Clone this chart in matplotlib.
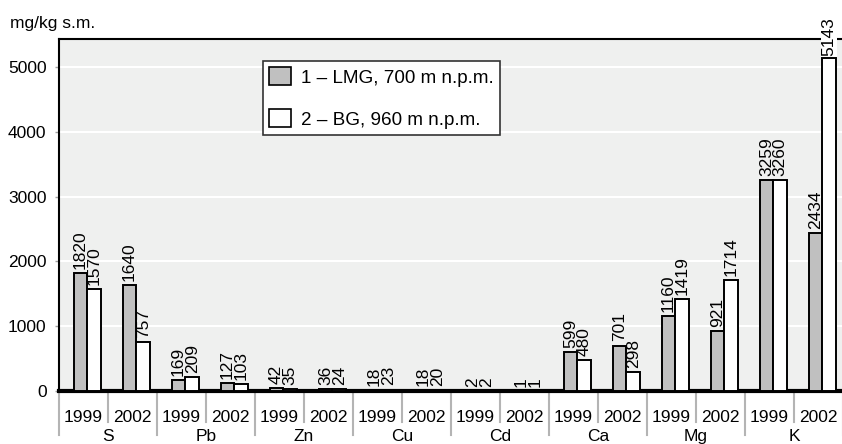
import matplotlib
matplotlib.use("Agg")
import matplotlib.pyplot as plt
from matplotlib.patches import Patch
import matplotlib.transforms as mtransforms

elements = ['S', 'Pb', 'Zn', 'Cu', 'Cd', 'Ca', 'Mg', 'K']
years = ['1999', '2002']
lmg = [1820, 1640, 169, 127, 42, 36, 18, 18, 2, 1, 599, 701, 1160, 921, 3259, 2434]
bg = [1570, 757, 209, 103, 35, 24, 23, 20, 2, 1, 480, 298, 1419, 1714, 3260, 5143]
series_labels = ['1 – LMG, 700 m n.p.m.', '2 – BG, 960 m n.p.m.']
yticks = [0, 1000, 2000, 3000, 4000, 5000]

FONT = ['Liberation Sans Narrow', 'Liberation Sans', 'DejaVu Sans']
plt.rcParams['font.family'] = FONT
FS = 12.5
FS_LEG = 13.6

W, H = 842, 444
fig = plt.figure(figsize=(W / 100, H / 100), dpi=100)
ax_l, ax_r, ax_t, ax_b = 59, 843, 39, 391
ax = fig.add_axes([ax_l / W, 1 - ax_b / H, (ax_r - ax_l) / W, (ax_b - ax_t) / H])
ax.set_facecolor('#eff0ef')

n = len(lmg)
ax.set_xlim(0, n)
ax.set_ylim(0, 5432)

bw = 0.28
x_g = [i + 0.44 for i in range(n)]
x_w = [i + 0.72 for i in range(n)]
ax.bar(x_g, lmg, width=bw, color='#c0c0c0', edgecolor='black', linewidth=1.4, zorder=3)
ax.bar(x_w, bg, width=bw, color='white', edgecolor='black', linewidth=1.4, zorder=3)

for xs, vals in ((x_g, lmg), (x_w, bg)):
    for x, v in zip(xs, vals):
        kw = {}
        if v > 5000:
            kw['bbox'] = dict(facecolor='white', edgecolor='none', pad=0.5)
            off = 1
        else:
            off = 3
        ax.annotate(str(v), (x, v), xytext=(0, off), textcoords='offset points',
                    rotation=90, ha='center', va='bottom', fontsize=FS,
                    zorder=2.8, annotation_clip=False, **kw)

ax.set_yticks(yticks)
ax.set_yticklabels([str(t) for t in yticks], fontsize=FS)
ax.yaxis.grid(True, color='white', linewidth=1.5)
ax.set_axisbelow(True)
ax.tick_params(axis='y', length=3, width=1, color='#a0a0a0', pad=6)
ax.set_xticks([])

ax.spines['right'].set_visible(False)
ax.spines['left'].set_linewidth(1.5)
ax.spines['top'].set_linewidth(1.5)
ax.spines['bottom'].set_linewidth(3)
ax.spines['top'].set_zorder(2.5)

trans = mtransforms.blended_transform_factory(ax.transData, ax.transAxes)
h_ax = ax_b - ax_t
for i in range(n + 1):
    ylow = (ax_b - 435) / h_ax if i % 2 == 0 else (ax_b - 422) / h_ax
    ax.plot([i, i], [-(2.5 / h_ax), ylow], transform=trans, color='#b4b4b4',
            linewidth=1.5, clip_on=False)

for i in range(n):
    ax.text(i + 0.5, (ax_b - 421.5) / h_ax, years[i % 2], transform=trans,
            ha='center', va='baseline', fontsize=FS)
for j, el in enumerate(elements):
    ax.text(2 * j + 1, (ax_b - 440.5) / h_ax, el, transform=trans,
            ha='center', va='baseline', fontsize=FS)

fig.text(10 / W, 1 - 28 / H, 'mg/kg s.m.', ha='left', va='baseline', fontsize=FS)

handles = [Patch(facecolor='#c0c0c0', edgecolor='black', linewidth=1.2),
           Patch(facecolor='white', edgecolor='black', linewidth=1.2)]
leg = ax.legend(handles, series_labels, loc='upper left',
                bbox_to_anchor=(263 / W, 1 - 61 / H), bbox_transform=fig.transFigure,
                borderaxespad=0, fontsize=FS_LEG, frameon=True, fancybox=False,
                framealpha=1, edgecolor='#333333', handlelength=1.16,
                handleheight=1.07, handletextpad=0.5, labelspacing=1.2,
                borderpad=0.33)
leg.get_frame().set_linewidth(1.2)
leg.set_zorder(5)

fig.savefig('out.png', dpi=100)
